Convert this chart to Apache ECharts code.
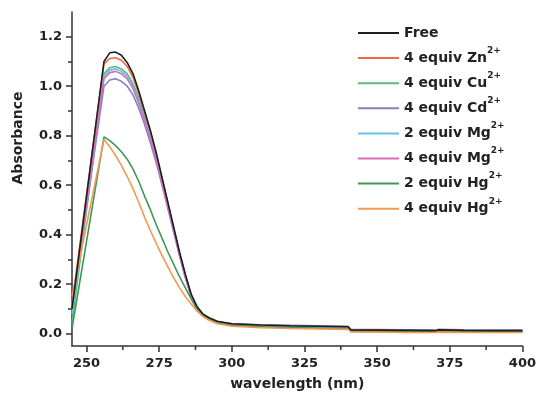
<!DOCTYPE html>
<html>
<head>
<meta charset="utf-8">
<script src="https://cdn.jsdelivr.net/npm/echarts@6/dist/echarts.min.js"></script>
<style>
html,body{margin:0;padding:0;background:#fff;}
#chart{width:539px;height:396px;}
</style>
</head>
<body>
<div id="chart"></div>
<script>
// wavelength (nm)
const wavelengths = [245,256,258,260,262,264,266,268,270,272,274,276,278,280,282,284,286,288,290,292,295,300,310,320,330,340,341,350,360,370,371,380,390,400];

const freeVals = [0.10,1.10,1.135,1.138,1.125,1.095,1.05,0.98,0.90,0.82,0.73,0.63,0.53,0.43,0.33,0.24,0.16,0.11,0.08,0.065,0.05,0.04,0.035,0.032,0.03,0.028,0.015,0.014,0.013,0.012,0.015,0.013,0.012,0.012];
const zn4Vals = [0.12,1.09,1.112,1.115,1.105,1.08,1.035,0.97,0.89,0.81,0.72,0.625,0.525,0.425,0.325,0.235,0.155,0.105,0.077,0.062,0.048,0.038,0.033,0.03,0.028,0.026,0.013,0.012,0.011,0.01,0.013,0.011,0.01,0.01];
const cu4Vals = [0.04,1.05,1.075,1.08,1.07,1.05,1.01,0.95,0.875,0.795,0.71,0.615,0.52,0.42,0.32,0.23,0.15,0.10,0.073,0.058,0.045,0.036,0.03,0.027,0.025,0.023,0.01,0.009,0.008,0.008,0.01,0.009,0.008,0.008];
const cd4Vals = [0.10,1.0,1.025,1.03,1.02,1.0,0.965,0.91,0.845,0.77,0.69,0.60,0.505,0.41,0.315,0.225,0.15,0.10,0.075,0.06,0.048,0.04,0.036,0.034,0.032,0.03,0.017,0.016,0.015,0.014,0.017,0.015,0.014,0.014];
const mg2Vals = [0.08,1.04,1.065,1.07,1.06,1.04,1.0,0.94,0.865,0.79,0.705,0.61,0.515,0.42,0.32,0.23,0.152,0.102,0.075,0.06,0.047,0.038,0.033,0.03,0.028,0.026,0.013,0.012,0.011,0.01,0.013,0.011,0.01,0.01];
const mg4Vals = [0.11,1.03,1.055,1.06,1.05,1.03,0.99,0.93,0.86,0.785,0.70,0.607,0.512,0.418,0.32,0.23,0.152,0.102,0.075,0.06,0.047,0.038,0.034,0.031,0.029,0.027,0.014,0.013,0.012,0.011,0.014,0.012,0.011,0.011];
const hg2Vals = [0.02,0.795,0.78,0.76,0.735,0.705,0.665,0.615,0.555,0.50,0.44,0.385,0.33,0.28,0.23,0.185,0.14,0.10,0.075,0.06,0.045,0.035,0.028,0.025,0.022,0.02,0.01,0.009,0.008,0.008,0.01,0.009,0.008,0.008];
const hg4Vals = [0.15,0.785,0.755,0.72,0.68,0.635,0.585,0.53,0.47,0.415,0.365,0.315,0.27,0.225,0.185,0.15,0.12,0.092,0.07,0.055,0.04,0.03,0.024,0.021,0.019,0.017,0.007,0.006,0.005,0.005,0.006,0.005,0.005,0.005];

const seriesNames = ['Free','4 equiv Zn2+','4 equiv Cu2+','4 equiv Cd2+','2 equiv Mg2+','4 equiv Mg2+','2 equiv Hg2+','4 equiv Hg2+'];
const seriesValues = [freeVals,zn4Vals,cu4Vals,cd4Vals,mg2Vals,mg4Vals,hg2Vals,hg4Vals];
const seriesColors = ['#1e1e1e','#ee6a40','#62b77c','#8580c0','#62c3e6','#d86cb8','#3e9857','#f29a52'];

const xTicks = [250,275,300,325,350,375,400];
const xMinorTicks = [262.5,287.5,312.5,337.5,362.5,387.5];
const yTicks = [0,0.2,0.4,0.6,0.8,1.0,1.2];
const yMinorTicks = [0.1,0.3,0.5,0.7,0.9,1.1];

const FONT = 'DejaVu Sans';
const axisColor = '#333';
const Y_MIN = -0.05, Y_MAX = 1.3, X_MIN = 245, X_MAX = 400;

function pairs(vals){ return wavelengths.map((w,i)=>[w, vals[i]]); }

const series = seriesNames.map((n,i)=>({
  name: n,
  type: 'line',
  data: pairs(seriesValues[i]),
  showSymbol: false,
  symbol: 'none',
  z: i === 0 ? 4 : 2,
  lineStyle: { color: seriesColors[i], width: 1.6 },
  itemStyle: { color: seriesColors[i] },
  animation: false
}));

// minor ticks of the x axis, placed through the axis scale
series.push({
  type: 'custom',
  name: 'xMinor',
  silent: true,
  clip: false,
  z: 5,
  data: xMinorTicks.map(v => [v, Y_MIN]),
  encode: { x: 0, y: 1 },
  renderItem: function(params, api){
    const p = api.coord([api.value(0), Y_MIN]);
    return { type: 'line', shape: { x1: p[0], y1: p[1], x2: p[0], y2: p[1] + 4 },
             style: { stroke: axisColor, lineWidth: 1.5 } };
  },
  tooltip: { show: false }
});

const chart = echarts.init(document.getElementById('chart'), null, {renderer:'canvas'});
chart.setOption({
  backgroundColor: '#fff',
  animation: false,
  grid: { left: 72, right: 10, top: 12, bottom: 48, containLabel: false },
  legend: {
    orient: 'vertical',
    left: 358, top: 26, padding: 0,
    icon: 'rect',
    itemWidth: 41, itemHeight: 2, itemGap: 6.1,
    data: seriesNames,
    formatter: function(name){
      const m = name.match(/^(.*?)(\d\+)$/);
      if (m) return '{b|' + m[1] + '}{s|' + m[2] + '}';
      return '{b|' + name + '}';
    },
    textStyle: {
      color: '#222',
      rich: {
        b: { fontFamily: FONT, fontWeight: 'bold', fontSize: 14, lineHeight: 24, color: '#222' },
        s: { fontFamily: FONT, fontWeight: 'bold', fontSize: 9, padding: [0,0,15,0], color: '#222' }
      }
    }
  },
  xAxis: [{
    type: 'value', min: X_MIN, max: X_MAX,
    name: 'wavelength (nm)', nameLocation: 'middle', nameGap: 31,
    nameTextStyle: { fontFamily: FONT, fontWeight: 'bold', fontSize: 14, color: '#222' },
    axisLine: { show: true, onZero: false, lineStyle: { color: axisColor, width: 1.5 } },
    axisTick: { show: true, inside: false, length: 6, customValues: xTicks, lineStyle: { color: axisColor, width: 1.5 } },
    axisLabel: { show: true, customValues: xTicks, margin: 11, fontFamily: FONT, fontWeight: 'bold', fontSize: 13, color: '#222' },
    splitLine: { show: false }
  }],
  yAxis: [{
    type: 'value', min: Y_MIN, max: Y_MAX,
    name: 'Absorbance', nameLocation: 'middle', nameGap: 47, nameRotate: 90,
    nameTextStyle: { fontFamily: FONT, fontWeight: 'bold', fontSize: 14, color: '#222', padding: [0,0,0,82] },
    axisLine: { show: true, onZero: false, lineStyle: { color: axisColor, width: 1.5 } },
    axisTick: { show: true, length: 6, customValues: yTicks, lineStyle: { color: axisColor, width: 1.5 } },
    axisLabel: { show: true, customValues: yTicks, margin: 10, fontFamily: FONT, fontWeight: 'bold', fontSize: 13, color: '#222',
      formatter: v => v.toFixed(1) },
    splitLine: { show: false }
  },{
    type: 'value', min: Y_MIN, max: Y_MAX, position: 'left',
    axisLine: { show: false, onZero: false },
    axisTick: { show: true, length: 4, customValues: yMinorTicks, lineStyle: { color: axisColor, width: 1.5 } },
    axisLabel: { show: false },
    splitLine: { show: false }
  }],
  series: series
});
</script>
</body>
</html>
